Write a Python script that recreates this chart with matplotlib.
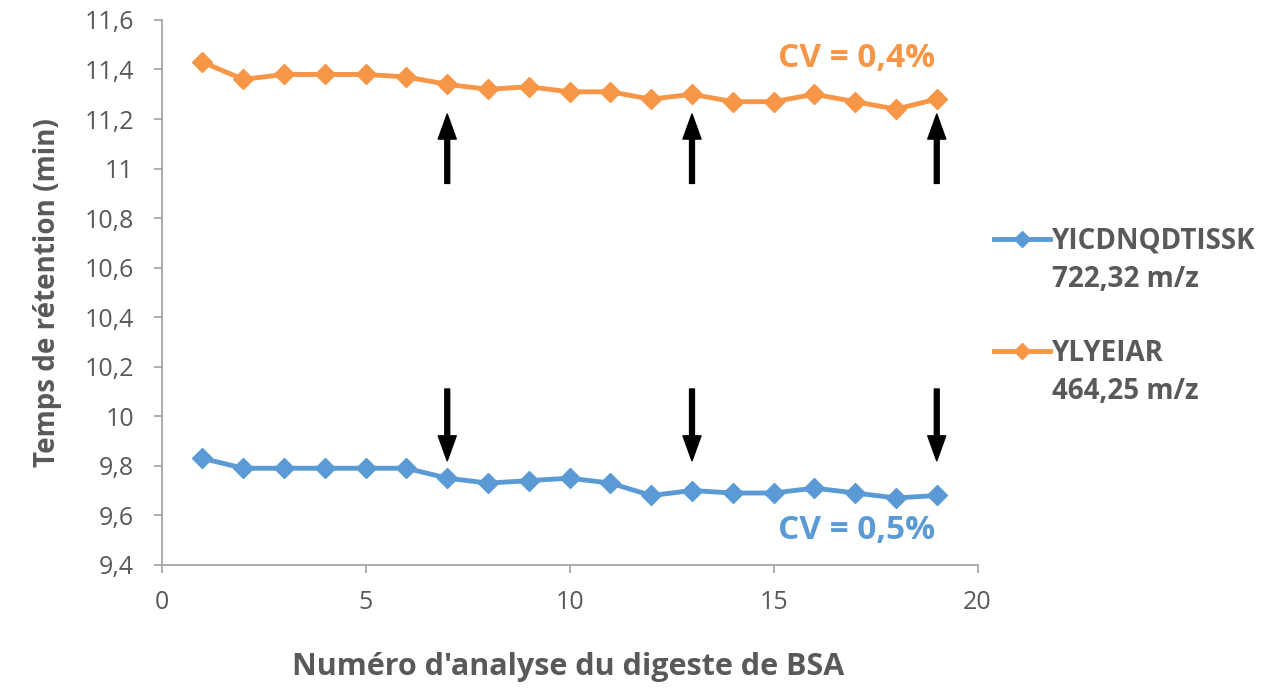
import numpy as np
import matplotlib
matplotlib.use('Agg')
import matplotlib.pyplot as plt
from matplotlib.ticker import FuncFormatter, MultipleLocator

plt.rcParams['font.family'] = ['Open Sans', 'DejaVu Sans']

# data
runs = list(range(1, 20))
yicd = [9.83, 9.79, 9.79, 9.79, 9.79, 9.79, 9.75, 9.73, 9.74, 9.75,
        9.73, 9.68, 9.70, 9.69, 9.69, 9.71, 9.69, 9.67, 9.68]
ylye = [11.43, 11.36, 11.38, 11.38, 11.38, 11.37, 11.34, 11.32, 11.33, 11.31,
        11.31, 11.28, 11.30, 11.27, 11.27, 11.30, 11.27, 11.24, 11.28]
arrow_runs = [7, 13, 19]
labels = ['YICDNQDTISSK', 'YLYEIAR']
masses = ['722,32 m/z', '464,25 m/z']
cv_labels = ['CV = 0,5%', 'CV = 0,4%']

blue = '#5B9BD5'
orange = '#F79646'
grey = '#595959'

fig = plt.figure(figsize=(12.63, 6.88), dpi=100)
ax = fig.add_axes([0.128, 0.179, 0.646, 0.792])

l1, = ax.plot(runs, yicd, color=blue, lw=3.5, marker='D', ms=10, label=labels[0])
l2, = ax.plot(runs, ylye, color=orange, lw=3.5, marker='D', ms=10, label=labels[1])

ax.set_xlim(0, 20)
ax.set_ylim(9.4, 11.6)
ax.xaxis.set_major_locator(MultipleLocator(5))
ax.yaxis.set_major_locator(MultipleLocator(0.2))
fmt = FuncFormatter(lambda v, p: ('%g' % round(v, 1)).replace('.', ','))
ax.yaxis.set_major_formatter(fmt)
ax.xaxis.set_major_formatter(fmt)

for s in ['top', 'right']:
    ax.spines[s].set_visible(False)
for s in ['left', 'bottom']:
    ax.spines[s].set_color('#A6A6A6')
    ax.spines[s].set_linewidth(1.3)
ax.tick_params(axis='both', colors='#A6A6A6', labelcolor=grey, labelsize=18,
               length=6, width=1.3, direction='out')
ax.tick_params(axis='x', pad=12)
ax.tick_params(axis='y', pad=14)

# arrows marking the runs
for r in arrow_runs:
    ax.annotate('', xy=(r, 11.22), xytext=(r, 10.94),
                arrowprops=dict(facecolor='black', edgecolor='black', width=3.5,
                                headwidth=13, headlength=18))
    ax.annotate('', xy=(r, 9.82), xytext=(r, 10.11),
                arrowprops=dict(facecolor='black', edgecolor='black', width=3.5,
                                headwidth=13, headlength=18))

ax.text(18.95, 11.445, cv_labels[1], color=orange, fontsize=24, fontweight='bold',
        ha='right', va='center')
ax.text(18.95, 9.54, cv_labels[0], color=blue, fontsize=24, fontweight='bold',
        ha='right', va='center')

ax.set_ylabel('Temps de rétention (min)', fontsize=20, fontweight='bold',
              color=grey, labelpad=16)
fig.text(0.45, 0.03, "Numéro d'analyse du digeste de BSA", fontsize=22,
         fontweight='bold', color=grey, ha='center', va='center')

leg = fig.legend(handles=[l1, l2], loc='center left', bbox_to_anchor=(0.787, 0.568),
                 frameon=False, fontsize=20, labelspacing=3.0, handlelength=2.0,
                 handletextpad=0.1, markerscale=0.8, borderpad=0, borderaxespad=0)
for t in leg.get_texts():
    t.set_color(grey)
    t.set_fontweight('bold')

# second line of each legend label (m/z) under the peptide name
fig.canvas.draw()
inv = fig.transFigure.inverted()
for t, m in zip(leg.get_texts(), masses):
    bb = t.get_window_extent()
    x0, y0 = inv.transform((bb.x0, bb.y0 - 9))
    fig.text(x0, y0, m, ha='left', va='top', fontsize=20, fontweight='bold',
             color=grey)

plt.savefig('out.png', dpi=100)
